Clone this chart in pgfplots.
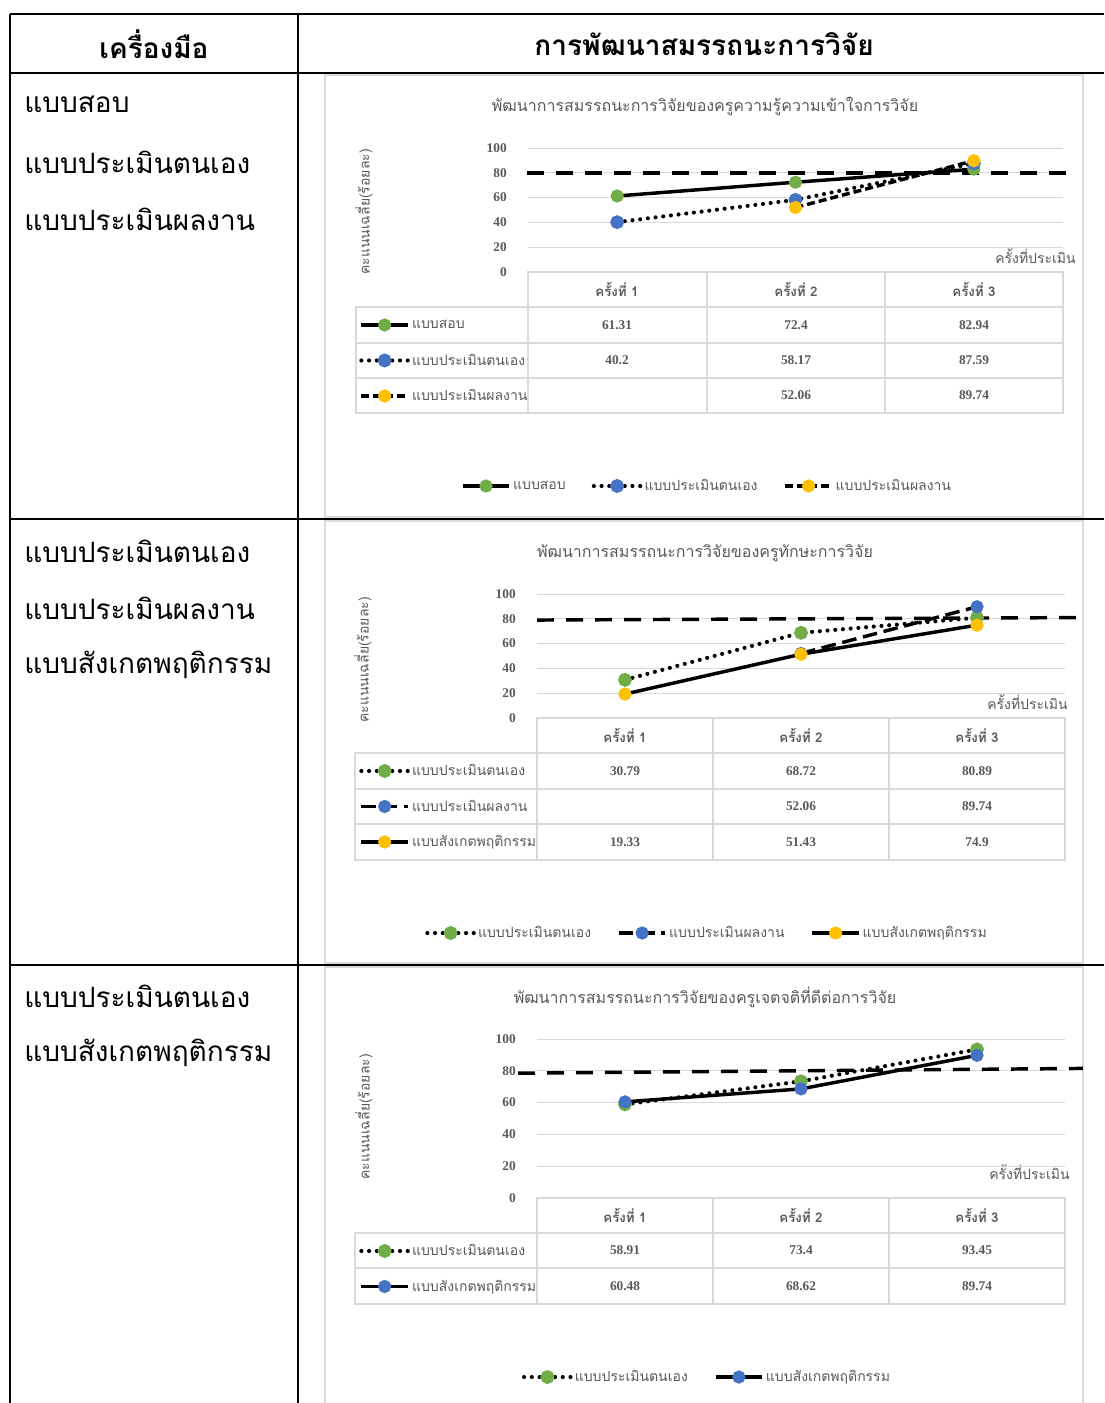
\documentclass[border=0pt]{standalone}
\usepackage{fontspec}
\setmainfont{Liberation Serif}
\newfontfamily\thai[Script=Thai]{Loma}
\usepackage{pgfplots}
\pgfplotsset{compat=1.18}
\definecolor{xgreen}{HTML}{70AD47}
\definecolor{xblue}{HTML}{4472C4}
\definecolor{xgold}{HTML}{FFC000}
\definecolor{gridc}{HTML}{D9D9D9}
\definecolor{txt}{HTML}{595959}
\def\U{0.75pt}
\newcommand\bigthai{\thai\fontsize{21}{25}\selectfont}
\newcommand\ttl{\thai\fontsize{12}{14}\selectfont}
\newcommand\sml{\thai\fontsize{10.5}{12}\selectfont}
\newcommand\num{\bfseries\fontsize{10}{12}\selectfont}
\newcommand\hdr{\thai\bfseries\fontsize{10}{12}\selectfont}
\tikzset{
  sSolid/.style={black, line width=2.6pt, solid},
  sDot/.style={black, line width=3.1pt, line cap=round, dash pattern=on 0pt off 5.8pt},
  sDash/.style={black, line width=2.6pt, dash pattern=on 6pt off 3pt},
  sLong/.style={black, line width=2.6pt, dash pattern=on 11pt off 5pt},
  refline/.style={black, line width=2.6pt, dash pattern=on 12.75pt off 9pt},
}
\pgfplotsset{
  mk/.style={mark=*, mark size=3.6pt, mark options={solid, draw=#1, fill=#1}},
  legend image code/.code={\draw[mark repeat=2,mark phase=2,#1] plot coordinates {(0pt,0pt) (17.5pt,0pt) (35pt,0pt)};},
  chart/.style={
    scale only axis, xmin=0.5, xmax=3.5, ymin=0, ymax=100,
    ytick={0,20,40,60,80,100}, xtick=\empty, ymajorgrids,
    grid style={draw=gridc, line width=0.75pt},
    axis line style={draw=none}, major tick length=0pt,
    yticklabel style={font=\bfseries\fontsize{10}{12}\selectfont, text=txt, inner sep=0pt, xshift=-15.75pt},
    /pgf/number format/assume math mode=true,
    clip=false,
    legend columns=3,
    legend style={draw=none, fill=none, anchor=center, font=\sml, text=txt, inner sep=0pt,
      nodes={inner sep=1.5pt}, /tikz/every even column/.append style={column sep=18pt}},
  },
  keys/.style={
    hide axis, scale only axis, width=10pt, height=10pt, xmin=0, xmax=1, ymin=0, ymax=1,
    anchor=north west, legend cell align=left,
    legend style={at={(0,1)}, anchor=north west, draw=none, fill=none, inner sep=0pt, row sep=0pt,
      font=\sml, text=txt, nodes={minimum height=26.6pt, inner ysep=0pt, inner xsep=1.5pt}},
  },
}
\begin{document}
\begin{tikzpicture}
\useasboundingbox (0pt,0pt) rectangle (828pt,-1052.25pt);
\clip (0pt,0pt) rectangle (828pt,-1052.25pt);
\begin{scope}[x=0.75pt, y=-0.75pt]
% outer table
\draw[line width=1.5pt] (10,14) -- (1104,14);
\draw[line width=1.5pt] (10,73) -- (1104,73);
\draw[line width=1.5pt] (10,519) -- (1104,519);
\draw[line width=1.5pt] (10,965) -- (1104,965);
\draw[line width=1.5pt] (10,14) -- (10,1410);
\draw[line width=1.5pt] (298,14) -- (298,1410);
\node[font=\bigthai\bfseries] at (154,44) {เครื่องมือ};
\node[font=\bigthai\bfseries] at (704,44) {การพัฒนาสมรรถนะการวิจัย};
\begin{scope}[every node/.style={anchor=west, font=\bigthai, inner sep=0pt}]
\node at (24,104) {แบบสอบ};
\node at (24,162) {แบบประเมินตนเอง};
\node at (24,219) {แบบประเมินผลงาน};
\node at (24,551) {แบบประเมินตนเอง};
\node at (24,608) {แบบประเมินผลงาน};
\node at (24,665) {แบบสังเกตพฤติกรรม};
\node at (24,996) {แบบประเมินตนเอง};
\node at (24,1053) {แบบสังเกตพฤติกรรม};
\end{scope}
% panels
\draw[gridc, fill=white, line width=0.9pt] (325,75) rectangle (1083,517);
\draw[gridc, fill=white, line width=0.9pt] (325,521) rectangle (1083,963);
\draw[gridc, fill=white, line width=0.9pt] (325,967) rectangle (1083,1420);
% chart titles, labels
\begin{scope}[every node/.style={text=txt}]
\node[font=\ttl] at (705,106) {พัฒนาการสมรรถนะการวิจัยของครูความรู้ความเข้าใจการวิจัย};
\node[font=\ttl] at (705,553) {พัฒนาการสมรรถนะการวิจัยของครูทักษะการวิจัย};
\node[font=\ttl] at (705,997) {พัฒนาการสมรรถนะการวิจัยของครูเจตจติที่ดีต่อการวิจัย};
\node[font=\sml, rotate=90] at (364,212) {คะแนนเฉลี่ย(ร้อยละ)};
\node[font=\sml, rotate=90] at (363,660) {คะแนนเฉลี่ย(ร้อยละ)};
\node[font=\sml, rotate=90] at (364,1117) {คะแนนเฉลี่ย(ร้อยละ)};
\node[font=\sml, anchor=east, inner sep=0pt] at (1076,256) {ครั้งที่ประเมิน};
\node[font=\sml, anchor=east, inner sep=0pt] at (1068,702) {ครั้งที่ประเมิน};
\node[font=\sml, anchor=east, inner sep=0pt] at (1070,1172) {ครั้งที่ประเมิน};
\end{scope}
% data tables
\begin{scope}[draw=gridc, line width=1pt]
\draw (528,272) rectangle (1063,413);
\draw (356,307) rectangle (1063,413);
\draw (356,343) -- (1063,343);
\draw (356,378) -- (1063,378);
\draw (707,272) -- (707,413);
\draw (885,272) -- (885,413);
\draw (537,718) rectangle (1065,860);
\draw (355,753) rectangle (1065,860);
\draw (355,789) -- (1065,789);
\draw (355,824) -- (1065,824);
\draw (713,718) -- (713,860);
\draw (889,718) -- (889,860);
\draw (537,1198) rectangle (1065,1304);
\draw (355,1233) rectangle (1065,1304);
\draw (355,1268) -- (1065,1268);
\draw (713,1198) -- (713,1304);
\draw (889,1198) -- (889,1304);
\end{scope}
\begin{scope}[every node/.style={text=txt, font=\num}]
\node[font=\hdr] at (617,289) {ครั้งที่ 1};
\node[font=\hdr] at (796,289) {ครั้งที่ 2};
\node[font=\hdr] at (974,289) {ครั้งที่ 3};
\node at (617,325) {61.31}; \node at (796,325) {72.4}; \node at (974,325) {82.94};
\node at (617,360) {40.2}; \node at (796,360) {58.17}; \node at (974,360) {87.59};
\node at (796,395) {52.06}; \node at (974,395) {89.74};
\node[font=\hdr] at (625,735) {ครั้งที่ 1};
\node[font=\hdr] at (801,735) {ครั้งที่ 2};
\node[font=\hdr] at (977,735) {ครั้งที่ 3};
\node at (625,771) {30.79}; \node at (801,771) {68.72}; \node at (977,771) {80.89};
\node at (801,806) {52.06}; \node at (977,806) {89.74};
\node at (625,842) {19.33}; \node at (801,842) {51.43}; \node at (977,842) {74.9};
\node[font=\hdr] at (625,1215) {ครั้งที่ 1};
\node[font=\hdr] at (801,1215) {ครั้งที่ 2};
\node[font=\hdr] at (977,1215) {ครั้งที่ 3};
\node at (625,1250) {58.91}; \node at (801,1250) {73.4}; \node at (977,1250) {93.45};
\node at (625,1286) {60.48}; \node at (801,1286) {68.62}; \node at (977,1286) {89.74};
\end{scope}
\end{scope}
% ---------------- chart 1
\begin{axis}[chart, at={(396pt,-204pt)}, anchor=south west, width=401.25pt, height=93pt,
  legend style={at={(0.3346,-1.7258)}}]
\addplot[sSolid, mk=xgreen] coordinates {(1,61.31) (2,72.4) (3,82.94)};
\addlegendentry{แบบสอบ}
\addplot[sDot, mk=xblue] coordinates {(1,40.2) (2,58.17) (3,87.59)};
\addlegendentry{แบบประเมินตนเอง}
\addplot[sDash, mk=xgold] coordinates {(2,52.06) (3,89.74)};
\addlegendentry{แบบประเมินผลงาน}
\addplot[refline, forget plot] coordinates {(0.494,80) (3.553,80)};
\end{axis}
\begin{axis}[keys, at={(269.25pt,-230.25pt)}]
\addlegendimage{sSolid, mk=xgreen}\addlegendentry{แบบสอบ}
\addlegendimage{sDot, mk=xblue}\addlegendentry{แบบประเมินตนเอง}
\addlegendimage{sDash, mk=xgold}\addlegendentry{แบบประเมินผลงาน}
\end{axis}
% ---------------- chart 2
\begin{axis}[chart, at={(402.75pt,-538.5pt)}, anchor=south west, width=396pt, height=93pt,
  legend style={at={(0.322,-1.734)}}]
\addplot[sDot, mk=xgreen] coordinates {(1,30.79) (2,68.72) (3,80.89)};
\addlegendentry{แบบประเมินตนเอง}
\addplot[sLong, mk=xblue] coordinates {(2,52.06) (3,89.74)};
\addlegendentry{แบบประเมินผลงาน}
\addplot[sSolid, mk=xgold] coordinates {(1,19.33) (2,51.43) (3,74.9)};
\addlegendentry{แบบสังเกตพฤติกรรม}
\addplot[refline, forget plot] coordinates {(0.5,79) (3.585,81)};
\end{axis}
\begin{axis}[keys, at={(269.25pt,-564.75pt)}]
\addlegendimage{sDot, mk=xgreen}\addlegendentry{แบบประเมินตนเอง}
\addlegendimage{sLong, mk=xblue}\addlegendentry{แบบประเมินผลงาน}
\addlegendimage{sSolid, mk=xgold}\addlegendentry{แบบสังเกตพฤติกรรม}
\end{axis}
% ---------------- chart 3
\begin{axis}[chart, at={(402.75pt,-898.5pt)}, anchor=south west, width=396pt, height=119.25pt,
  legend style={at={(0.322,-1.126)}}]
\addplot[sDot, mk=xgreen] coordinates {(1,58.91) (2,73.4) (3,93.45)};
\addlegendentry{แบบประเมินตนเอง}
\addplot[sSolid, mk=xblue] coordinates {(1,60.48) (2,68.62) (3,89.74)};
\addlegendentry{แบบสังเกตพฤติกรรม}
\addplot[refline, forget plot] coordinates {(0.392,78.5) (3.602,81.5)};
\end{axis}
\begin{axis}[keys, at={(269.25pt,-924.75pt)}]
\addlegendimage{sDot, mk=xgreen}\addlegendentry{แบบประเมินตนเอง}
\addlegendimage{sSolid, mk=xblue}\addlegendentry{แบบสังเกตพฤติกรรม}
\end{axis}
\end{tikzpicture}
\end{document}
